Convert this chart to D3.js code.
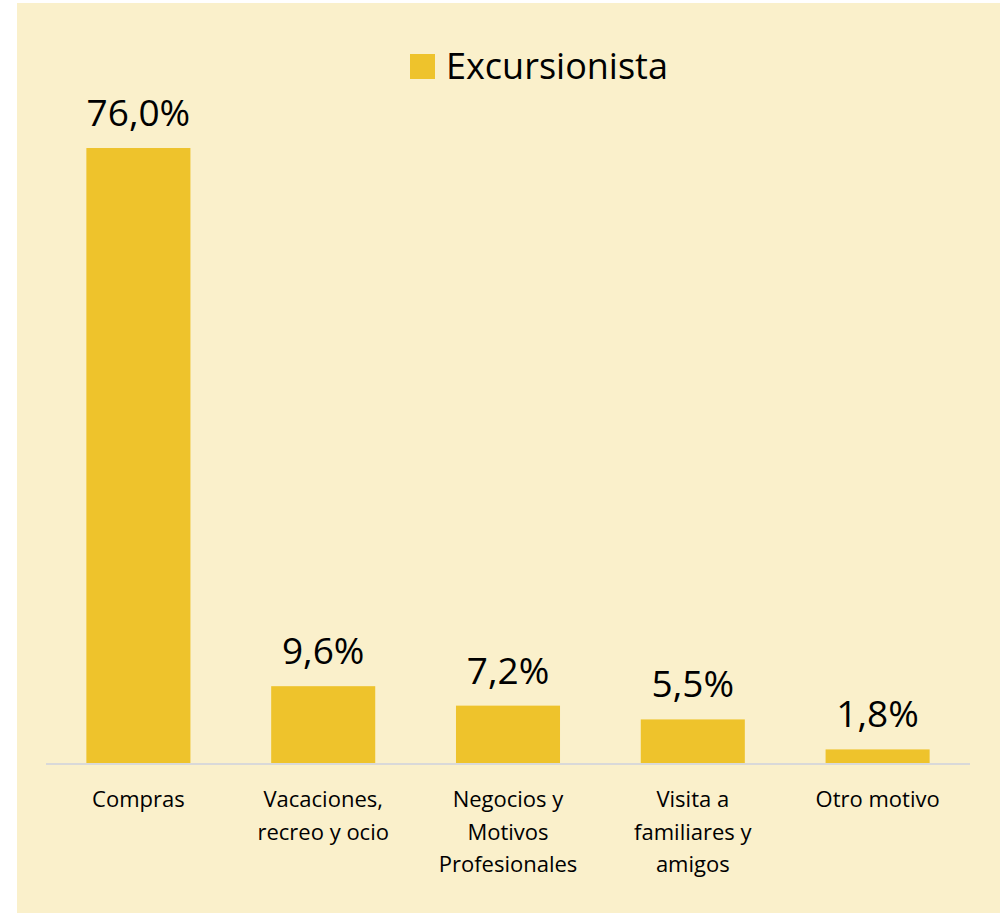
<!DOCTYPE html>
<html>
<head>
<meta charset="utf-8">
<script src="https://cdn.jsdelivr.net/npm/d3@7"></script>
<style>
  body { margin: 0; background: #ffffff; }
  text { font-family: "Open Sans", "Noto Sans", sans-serif; fill: #000; }
</style>
</head>
<body>
<div id="chart"></div>
<script>
// data
var categories = [
  ["Compras"],
  ["Vacaciones,", "recreo y ocio"],
  ["Negocios y", "Motivos", "Profesionales"],
  ["Visita a", "familiares y", "amigos"],
  ["Otro motivo"]
];
var values = [76.0, 9.6, 7.2, 5.5, 1.8];
var seriesName = "Excursionista";

var W = 1008, H = 915;
var barColor = "#EEC32C";

var svg = d3.select("#chart")
  .append("svg")
    .attr("width", W)
    .attr("height", H);

// chart background panel
svg.append("rect")
  .attr("x", 17)
  .attr("y", 3)
  .attr("width", 983)
  .attr("height", 910)
  .attr("fill", "#FAF0CB");

var baseY = 764;

var x = d3.scaleBand()
  .domain(d3.range(values.length))
  .range([46, 970])
  .paddingInner(0.437)
  .paddingOuter(0.2185);

var y = d3.scaleLinear()
  .domain([0, 80])
  .range([baseY, baseY - 648.4]);

// bars
svg.selectAll(".bar")
  .data(values)
  .enter().append("rect")
    .attr("class", "bar")
    .attr("x", function(d, i) { return x(i); })
    .attr("y", function(d) { return y(d); })
    .attr("width", x.bandwidth())
    .attr("height", function(d) { return baseY - y(d); })
    .attr("fill", barColor);

// category axis line
svg.append("line")
  .attr("x1", 46).attr("x2", 970)
  .attr("y1", baseY).attr("y2", baseY)
  .attr("stroke", "#D9D9D9")
  .attr("stroke-width", 2);

// value labels
var fmt = function(v) { return d3.format(".1f")(v).replace(".", ",") + "%"; };
svg.selectAll(".val")
  .data(values)
  .enter().append("text")
    .attr("class", "val")
    .attr("x", function(d, i) { return x(i) + x.bandwidth() / 2; })
    .attr("y", function(d) { return y(d) - 22; })
    .attr("text-anchor", "middle")
    .style("font-size", "37px")
    .text(fmt);

// category labels, wrapped like the original
var cat = svg.selectAll(".cat")
  .data(categories)
  .enter().append("text")
    .attr("class", "cat")
    .attr("text-anchor", "middle")
    .style("font-size", "22px")
    .attr("transform", function(d, i) {
      return "translate(" + (x(i) + x.bandwidth() / 2) + "," + 807 + ")";
    });
cat.selectAll("tspan")
  .data(function(d) { return d; })
  .enter().append("tspan")
    .attr("x", 0)
    .attr("y", function(d, j) { return j * 32.5; })
    .text(function(d) { return d; });

// legend
var legend = svg.append("g").attr("transform", "translate(410,54)");
legend.append("rect")
  .attr("width", 25)
  .attr("height", 25)
  .attr("fill", barColor);
legend.append("text")
  .attr("x", 36)
  .attr("y", 25)
  .style("font-size", "36px")
  .text(seriesName);
</script>
</body>
</html>
